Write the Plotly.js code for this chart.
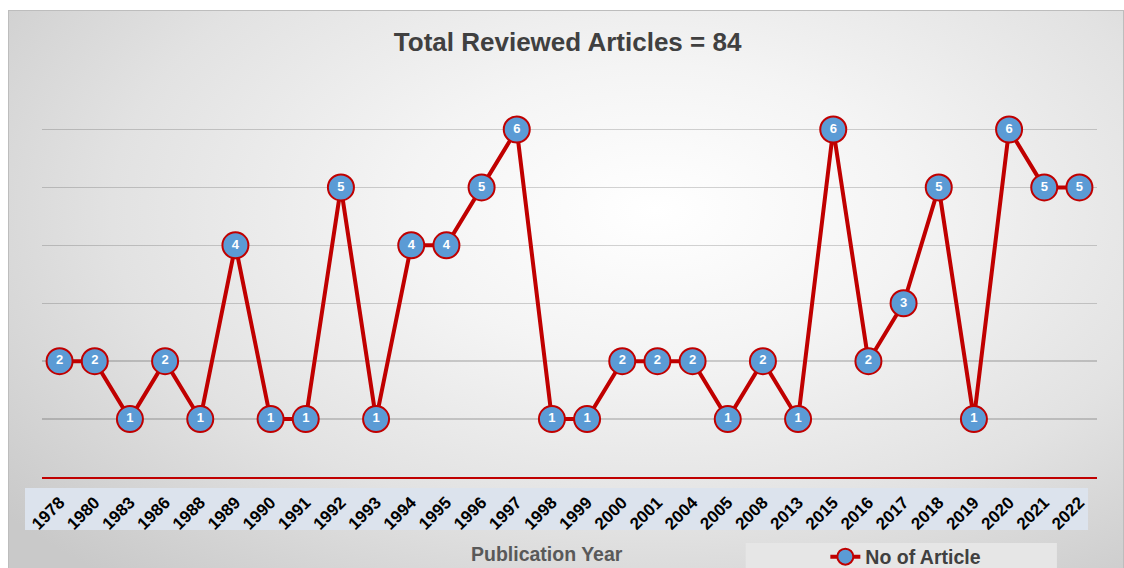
<!DOCTYPE html>
<html>
<head>
<meta charset="utf-8">
<script src="https://cdn.plot.ly/plotly-3.0.1.min.js"></script>
<style>
  html, body { margin: 0; padding: 0; background: #ffffff; }
  #wrap { position: relative; width: 1124px; height: 568px; overflow: hidden; }
  #bg { position: absolute; left: 8px; top: 10px; width: 1114px; height: 570px;
        border: 1px solid #bdbdbd;
        background: radial-gradient(ellipse 75% 85% at 58% 35%, #ffffff 0%, #f4f4f4 30%, #e2e2e2 65%, #c9c9c9 100%); }
  #chart { position: absolute; left: 0; top: 0; width: 1124px; height: 568px; }
</style>
</head>
<body>
<div id="wrap">
  <div id="bg"></div>
  <div id="chart"></div>
</div>
<script>
const years = ["1978","1980","1983","1986","1988","1989","1990","1991","1992","1993",
               "1994","1995","1996","1997","1998","1999","2000","2001","2004","2005",
               "2008","2013","2015","2016","2017","2018","2019","2020","2021","2022"];
const articles = [2,2,1,2,1,4,1,1,5,1,
                  4,4,5,6,1,1,2,2,2,1,
                  2,1,6,2,3,5,1,6,5,5];
const seriesName = "No of Article";
const chartTitle = "Total Reviewed Articles = 84";
const xTitle = "Publication Year";

const trace = {
  x: years,
  y: articles,
  type: "scatter",
  mode: "lines+markers+text",
  name: seriesName,
  text: articles.map(String),
  textposition: "middle center",
  textfont: { family: "Arial, Liberation Sans, sans-serif", size: 13, color: "#ffffff", weight: "bold" },
  line: { color: "#C00000", width: 4 },
  marker: { size: 26, color: "#5B9BD5", line: { color: "#C00000", width: 2 } },
  cliponaxis: false,
  hoverinfo: "x+y"
};

const layout = {
  width: 1124,
  height: 568,
  margin: { l: 42, r: 27, t: 71, b: 91, autoexpand: false },
  paper_bgcolor: "rgba(0,0,0,0)",
  plot_bgcolor: "rgba(0,0,0,0)",
  title: {
    text: "<b>" + chartTitle + "</b>",
    font: { family: "Arial, Liberation Sans, sans-serif", size: 26, color: "#404040" },
    x: 0.505, xanchor: "center",
    y: 0.926, yanchor: "middle"
  },
  xaxis: {
    type: "category",
    range: [-0.5, years.length - 0.5],
    automargin: false,
    showgrid: false,
    showline: true,
    linecolor: "#C00000",
    linewidth: 2,
    ticks: "",
    tickangle: -45,
    ticklabelstandoff: 7,
    tickfont: { family: "Arial, Liberation Sans, sans-serif", size: 17, color: "#000000", weight: "bold" },
    zeroline: false,
    fixedrange: true
  },
  yaxis: {
    range: [0, 7.01],
    dtick: 1,
    automargin: false,
    showticklabels: false,
    showgrid: true,
    gridcolor: "rgba(0,0,0,0.17)",
    gridwidth: 1.5,
    zeroline: false,
    showline: false,
    ticks: "",
    fixedrange: true
  },
  showlegend: true,
  legend: {
    x: 0.7425, xanchor: "left",
    y: -0.197, yanchor: "middle",
    orientation: "h",
    bgcolor: "rgba(0,0,0,0)",
    font: { family: "Arial, Liberation Sans, sans-serif", size: 19.5, color: "#404040", weight: "bold" },
    itemwidth: 30
  },
  shapes: [
    { type: "rect", xref: "paper", yref: "paper", layer: "below",
      x0: -0.0161, x1: 0.9915, y0: -0.0271, y1: -0.1305,
      fillcolor: "#dce3ed", line: { width: 0 } },
    { type: "rect", xref: "paper", yref: "paper", layer: "below",
      x0: 0.667, x1: 0.962, y0: -0.1626, y1: -0.26,
      fillcolor: "#e6e6e6", line: { width: 0 } }
  ],
  annotations: [
    { text: "<b>" + xTitle + "</b>", xref: "paper", yref: "paper",
      x: 0.4787, y: -0.19, xanchor: "center", yanchor: "middle", showarrow: false,
      font: { family: "Arial, Liberation Sans, sans-serif", size: 19.5, color: "#595959" } }
  ]
};

Plotly.newPlot("chart", [trace], layout, { displayModeBar: false, staticPlot: true });
</script>
</body>
</html>
